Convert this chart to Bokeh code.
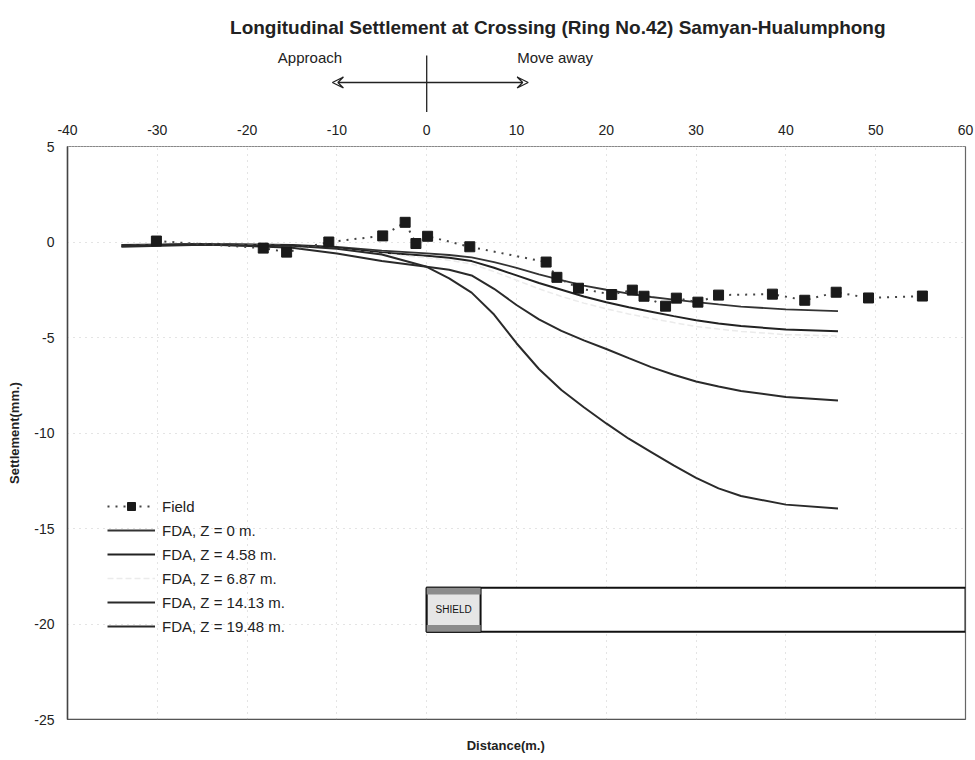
from bokeh.plotting import figure
from bokeh.layouts import column
from bokeh.models import (Range1d, FixedTicker, Arrow, VeeHead, Label, Legend,
                          LegendItem, ColumnDataSource)
from bokeh.embed import file_html
from bokeh.resources import INLINE

FONT = "Liberation Sans"
INK = "#222222"

# Field measurements (distance from crossing in m, settlement in mm)
field_x = [-30.1, -18.2, -15.6, -10.9, -4.9, -2.4, -1.2, 0.1, 4.8, 13.3, 14.5,
           16.9, 20.6, 22.9, 24.2, 26.6, 27.8, 30.2, 32.5, 38.5, 42.1, 45.6,
           49.2, 55.2]
field_y = [0.05, -0.32, -0.53, 0.0, 0.32, 1.03, -0.08, 0.3, -0.25, -1.05,
           -1.85, -2.42, -2.75, -2.52, -2.84, -3.36, -2.94, -3.15, -2.78,
           -2.73, -3.05, -2.63, -2.93, -2.83]

# FDA predictions at several depths Z
fda_x = [-34, -25, -15, -10, -5, 0, 2.5, 5, 7.5, 10, 12.5, 15, 17.5, 20,
         22.5, 25, 27.5, 30, 32.5, 35, 40, 45.8]
fda_z0 = [-0.15, -0.1, -0.15, -0.25, -0.45, -0.6, -0.68, -0.8, -1.05, -1.35,
          -1.7, -2.0, -2.28, -2.5, -2.7, -2.88, -3.02, -3.15, -3.27, -3.38,
          -3.53, -3.62]
fda_z458 = [-0.2, -0.12, -0.18, -0.3, -0.55, -0.72, -0.82, -1.0, -1.35,
            -1.75, -2.15, -2.5, -2.85, -3.15, -3.42, -3.65, -3.88, -4.1,
            -4.27, -4.4, -4.58, -4.67]
fda_z687 = [-0.2, -0.12, -0.2, -0.35, -0.62, -0.82, -0.95, -1.15, -1.55,
            -2.0, -2.45, -2.85, -3.2, -3.5, -3.77, -4.0, -4.22, -4.42, -4.56,
            -4.68, -4.85, -4.92]
fda_z1413 = [-0.2, -0.12, -0.3, -0.6, -1.0, -1.3, -1.45, -1.75, -2.45, -3.3,
             -4.05, -4.65, -5.15, -5.6, -6.08, -6.55, -6.95, -7.3, -7.57,
             -7.8, -8.12, -8.3]
fda_z1948 = [-0.25, -0.15, -0.2, -0.35, -0.65, -1.3, -1.9, -2.65, -3.8, -5.3,
             -6.65, -7.75, -8.65, -9.5, -10.3, -11.0, -11.7, -12.35, -12.9,
             -13.3, -13.75, -13.95]

x_ticks = [-40, -30, -20, -10, 0, 10, 20, 30, 40, 50, 60]
y_ticks = [5, 0, -5, -10, -15, -20, -25]

# Shield and tunnel lining drawn as boxes below the profile
shield_start, shield_end, tunnel_end = 0, 6, 60
tunnel_top, tunnel_bottom = -18.1, -20.4

x_range = Range1d(-40, 60)


def strip(height):
    """Plain band sharing the distance scale, y measured in px from its top."""
    f = figure(width=975, height=height, x_range=x_range,
               y_range=Range1d(height, 0), output_backend="svg",
               toolbar_location=None, x_axis_type=None, y_axis_type=None,
               min_border_left=67, min_border_right=10, min_border_top=0,
               min_border_bottom=0)
    f.outline_line_color = None
    f.xgrid.visible = False
    f.ygrid.visible = False
    f.background_fill_color = "white"
    f.border_fill_color = "white"
    return f


# ---- heading band: title and direction arrows
head = strip(112)
head.add_layout(Label(x=14.6, y=27,
                      text="Longitudinal Settlement at Crossing (Ring No.42) Samyan-Hualumphong",
                      text_align="center", text_baseline="middle",
                      text_font=FONT, text_font_style="bold",
                      text_font_size="19px", text_color=INK))
head.add_layout(Label(x=-13.0, y=57, text="Approach", text_align="center",
                      text_baseline="middle", text_font=FONT,
                      text_font_size="15px", text_color=INK))
head.add_layout(Label(x=14.3, y=57, text="Move away", text_align="center",
                      text_baseline="middle", text_font=FONT,
                      text_font_size="15px", text_color=INK))
for x_tip in (-10.5, 11.3):
    head.add_layout(Arrow(x_start=0, y_start=82, x_end=x_tip, y_end=82,
                          line_color=INK, line_width=1.3,
                          end=VeeHead(size=11, line_color=INK,
                                      line_width=1.3, fill_color=None)))
head.add_layout(Arrow(x_start=0, y_start=55, x_end=0, y_end=112,
                      line_color=INK, line_width=1.3, end=None))

# ---- main chart
p = figure(width=975, height=617, x_range=x_range, y_range=Range1d(-25, 5),
           output_backend="svg", toolbar_location=None,
           x_axis_location="above",
           min_border_left=67, min_border_right=10, min_border_top=34,
           min_border_bottom=10)
p.background_fill_color = "white"
p.border_fill_color = "white"
p.outline_line_color = "#666666"
p.outline_line_width = 1.2

# top axis carries the distance tick labels
xa = p.xaxis[0]
xa.ticker = FixedTicker(ticks=x_ticks)
xa.major_label_overrides = {t: str(t) for t in x_ticks}
xa.major_tick_out = 0
xa.major_tick_in = 0
xa.minor_tick_out = 0
xa.minor_tick_in = 0
xa.axis_line_color = "#aaaaaa"
xa.axis_line_dash = "2 1"
xa.major_label_standoff = 12
xa.major_label_text_font = FONT
xa.major_label_text_font_size = "14px"
xa.major_label_text_color = INK

ya = p.yaxis[0]
ya.ticker = FixedTicker(ticks=y_ticks)
ya.major_label_overrides = {t: str(t) for t in y_ticks}
ya.major_tick_out = 0
ya.major_tick_in = 0
ya.minor_tick_out = 0
ya.minor_tick_in = 0
ya.axis_line_color = "#444444"
ya.axis_line_width = 1.5
ya.major_label_standoff = 13
ya.major_label_text_font = FONT
ya.major_label_text_font_size = "14px"
ya.major_label_text_color = INK
ya.axis_label = "Settlement(mm.)"
ya.axis_label_text_font = FONT
ya.axis_label_text_font_style = "bold"
ya.axis_label_text_font_size = "13px"
ya.axis_label_text_color = INK
ya.axis_label_standoff = 9

for g in (p.xgrid[0], p.ygrid[0]):
    g.grid_line_color = "#c8c8c8"
    g.grid_line_dash = "1 5"
    g.grid_line_width = 1
p.xgrid[0].ticker = FixedTicker(ticks=x_ticks)
p.ygrid[0].ticker = FixedTicker(ticks=y_ticks)

# bottom frame line
p.segment(x0=[-40], y0=[-25], x1=[60], y1=[-25], line_color="#444444",
          line_width=1.5)

# tunnel lining and shield
p.quad(left=[shield_start], right=[tunnel_end], top=[tunnel_top],
       bottom=[tunnel_bottom], fill_color="white", line_color="#111111",
       line_width=2)
p.quad(left=[shield_start], right=[shield_end], top=[tunnel_top],
       bottom=[tunnel_bottom], fill_color="#e6e6e6", line_color="#111111",
       line_width=2)
p.quad(left=[shield_start], right=[shield_end], top=[tunnel_top],
       bottom=[tunnel_top - 0.35], fill_color="#8c8c8c", line_color=None)
p.quad(left=[shield_start], right=[shield_end], top=[tunnel_bottom + 0.35],
       bottom=[tunnel_bottom], fill_color="#8c8c8c", line_color=None)
p.add_layout(Label(x=(shield_start + shield_end) / 2,
                   y=(tunnel_top + tunnel_bottom) / 2, text="SHIELD",
                   text_align="center", text_baseline="middle",
                   text_font=FONT, text_font_size="10px",
                   text_color="#111111"))

# FDA curves
r_z0 = p.line(fda_x, fda_z0, line_color="#333333", line_width=1.8)
r_z458 = p.line(fda_x, fda_z458, line_color=INK, line_width=2)
r_z687 = p.line(fda_x, fda_z687, line_color="#ebebeb", line_width=1.5,
                line_dash="6 3")
r_z1413 = p.line(fda_x, fda_z1413, line_color="#2a2a2a", line_width=2)
r_z1948 = p.line(fda_x, fda_z1948, line_color="#2a2a2a", line_width=2)

# field points joined by a dotted line
src = ColumnDataSource(dict(x=field_x, y=field_y))
r_fl = p.line("x", "y", source=src, line_color="#444444", line_width=2,
              line_dash="2 6")
r_fp = p.scatter("x", "y", source=src, marker="square", size=10,
                 fill_color="#1a1a1a", line_color="#1a1a1a")

legend = Legend(items=[
    LegendItem(label="Field", renderers=[r_fl, r_fp]),
    LegendItem(label="FDA, Z = 0 m.", renderers=[r_z0]),
    LegendItem(label="FDA, Z = 4.58 m.", renderers=[r_z458]),
    LegendItem(label="FDA, Z = 6.87 m.", renderers=[r_z687]),
    LegendItem(label="FDA, Z = 14.13 m.", renderers=[r_z1413]),
    LegendItem(label="FDA, Z = 19.48 m.", renderers=[r_z1948]),
], location=(40, 83))
legend.background_fill_alpha = 0
legend.border_line_color = None
legend.padding = 0
legend.margin = 0
legend.spacing = 4
legend.glyph_width = 48
legend.glyph_height = 20
legend.label_height = 20
legend.label_standoff = 7
legend.label_text_font = FONT
legend.label_text_font_size = "15px"
legend.label_text_color = INK
p.add_layout(legend, "center")

# ---- foot band: distance axis title
foot = strip(31)
foot.add_layout(Label(x=8.8, y=16, text="Distance(m.)", text_align="center",
                      text_baseline="middle", text_font=FONT,
                      text_font_style="bold", text_font_size="13px",
                      text_color=INK))

layout = column(head, p, foot, spacing=0)
open("out.html", "w").write(file_html(layout, INLINE))
